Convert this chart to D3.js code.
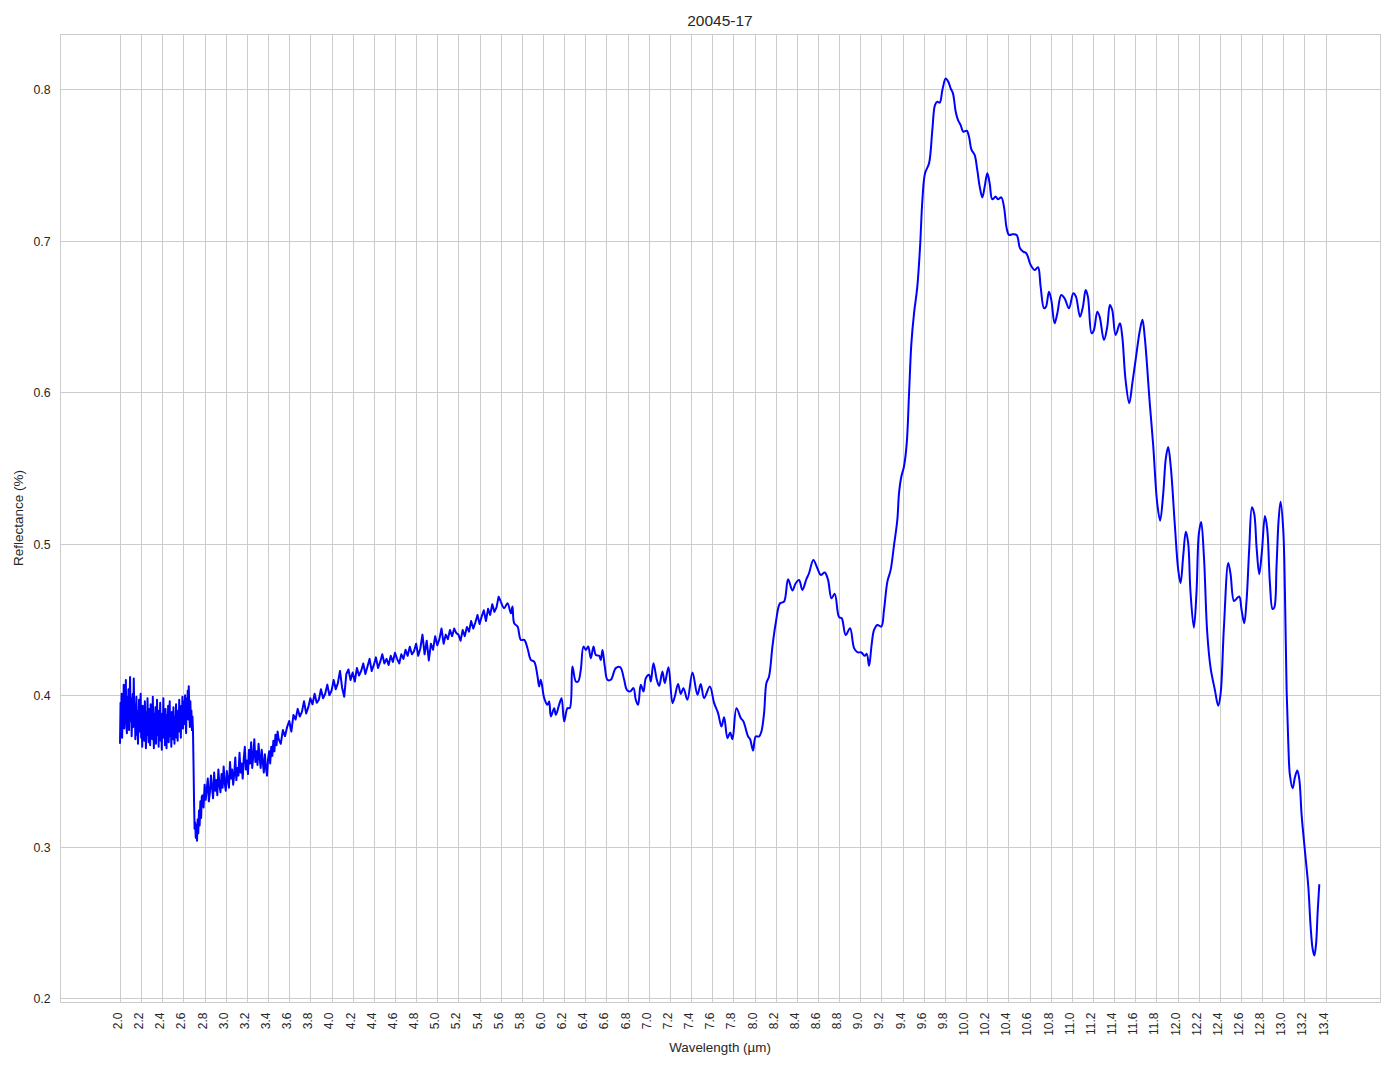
<!DOCTYPE html>
<html><head><meta charset="utf-8">
<script src="https://cdn.jsdelivr.net/npm/d3@7"></script>
<style>
html,body{margin:0;padding:0;background:#fff;}
svg text{font-family:"Liberation Sans",Arial,Helvetica,sans-serif;fill:#262626;}
</style></head><body>
<svg id="chart" width="1394" height="1069"></svg>
<script>
const chartTitle = "20045-17";
const xLabel = "Wavelength (µm)";
const yLabel = "Reflectance (%)";
const xTicks = [2.0,2.2,2.4,2.6,2.8,3.0,3.2,3.4,3.6,3.8,4.0,4.2,4.4,4.6,4.8,5.0,5.2,5.4,5.6,5.8,6.0,6.2,6.4,6.6,6.8,7.0,7.2,7.4,7.6,7.8,8.0,8.2,8.4,8.6,8.8,9.0,9.2,9.4,9.6,9.8,10.0,10.2,10.4,10.6,10.8,11.0,11.2,11.4,11.6,11.8,12.0,12.2,12.4,12.6,12.8,13.0,13.2,13.4];
const yTicks = [0.2,0.3,0.4,0.5,0.6,0.7,0.8];
const xDomain = [1.4325, 13.914];
const yDomain = [0.1976, 0.8363];

// noisy start (wavelength, reflectance)
const noisyStart = [[2.000,0.368],[2.005,0.395],[2.010,0.380],[2.015,0.401],[2.020,0.372],[2.025,0.392],[2.030,0.385],[2.035,0.407],[2.040,0.378],[2.045,0.396],
[2.050,0.389],[2.055,0.410],[2.060,0.381],[2.065,0.375],[2.070,0.399],[2.075,0.386],[2.080,0.404],[2.085,0.377],[2.090,0.393],[2.095,0.412],
[2.100,0.383],[2.105,0.398],[2.110,0.373],[2.115,0.388],[2.120,0.401],[2.125,0.379],[2.130,0.411],[2.135,0.387],[2.140,0.394],[2.145,0.371],
[2.150,0.385],[2.155,0.399],[2.160,0.374],[2.165,0.390],[2.170,0.368],[2.175,0.381],[2.180,0.397],[2.185,0.376],[2.190,0.389],[2.195,0.401],
[2.200,0.372],[2.205,0.384],[2.210,0.366],[2.215,0.393],[2.220,0.378],[2.225,0.387],[2.230,0.370],[2.235,0.396],[2.240,0.381],[2.245,0.365],
[2.250,0.389],[2.255,0.374],[2.260,0.398],[2.265,0.379],[2.270,0.369],[2.275,0.391],[2.280,0.383],[2.285,0.367],[2.290,0.394],[2.295,0.376],
[2.300,0.386],[2.305,0.371],[2.310,0.399],[2.315,0.380],[2.320,0.365],[2.325,0.388],[2.330,0.377],[2.335,0.392],[2.340,0.368],[2.345,0.383],
[2.350,0.397],[2.355,0.374],[2.360,0.386],[2.365,0.366],[2.370,0.390],[2.375,0.379],[2.380,0.395],[2.385,0.370],[2.390,0.382],[2.395,0.364],
[2.400,0.388],[2.405,0.375],[2.410,0.398],[2.415,0.372],[2.420,0.384],[2.425,0.367],[2.430,0.391],[2.435,0.380],[2.440,0.365],[2.445,0.387],
[2.450,0.374],[2.455,0.393],[2.460,0.369],[2.465,0.381],[2.470,0.396],[2.475,0.373],[2.480,0.385],[2.485,0.366],[2.490,0.389],[2.495,0.378],
[2.500,0.371],[2.505,0.392],[2.510,0.380],[2.515,0.368],[2.520,0.386],[2.525,0.375],[2.530,0.394],[2.535,0.372],[2.540,0.383],[2.545,0.370],
[2.550,0.390],[2.555,0.379],[2.560,0.397],[2.565,0.376],[2.570,0.388],[2.575,0.372],[2.580,0.393],[2.585,0.382],[2.590,0.399],[2.595,0.378],
[2.600,0.387],[2.605,0.396],[2.610,0.381],[2.615,0.400],[2.620,0.385],[2.625,0.375],[2.630,0.398],[2.635,0.389],[2.640,0.403],[2.645,0.384],
[2.650,0.406],[2.655,0.391],[2.660,0.379],[2.665,0.396],[2.670,0.383],[2.675,0.390],[2.680,0.377],[2.685,0.386],[2.690,0.376]];

const dropSegment = [[2.695,0.355],[2.700,0.330],[2.705,0.312],[2.711,0.316],[2.716,0.306],[2.722,0.314],[2.728,0.304],[2.734,0.318],
[2.740,0.309],[2.747,0.324],[2.753,0.314],[2.760,0.330],[2.767,0.319],[2.773,0.333]];

const noisyRise = [[2.78,0.334],[2.79,0.326],[2.80,0.341],[2.81,0.331],[2.82,0.338],[2.83,0.345],[2.84,0.330],[2.85,0.336],[2.86,0.347],[2.87,0.339],
[2.88,0.332],[2.89,0.349],[2.90,0.337],[2.91,0.344],[2.92,0.334],[2.93,0.351],[2.94,0.341],[2.95,0.336],[2.96,0.348],[2.97,0.339],
[2.98,0.353],[2.99,0.342],[3.00,0.337],[3.01,0.350],[3.02,0.344],[3.03,0.339],[3.04,0.356],[3.05,0.345],[3.06,0.351],[3.07,0.341],
[3.08,0.348],[3.09,0.359],[3.10,0.344],[3.11,0.352],[3.12,0.347],[3.13,0.362],[3.14,0.349],[3.15,0.355],[3.16,0.345],[3.17,0.358],
[3.18,0.366],[3.19,0.351],[3.20,0.357],[3.21,0.348],[3.22,0.364],[3.23,0.355],[3.24,0.369],[3.25,0.352],[3.26,0.360],[3.27,0.371],
[3.28,0.356],[3.29,0.363],[3.30,0.354],[3.31,0.368],[3.32,0.359],[3.33,0.352],[3.34,0.364],[3.35,0.356],[3.36,0.349],[3.37,0.361],
[3.38,0.352],[3.39,0.347],[3.40,0.358],[3.41,0.363],[3.42,0.355],[3.43,0.366],[3.44,0.360],[3.45,0.370],[3.46,0.363],[3.47,0.374],
[3.48,0.367],[3.49,0.376],[3.50,0.371]];

const noisyPlateau = [[3.52,0.368],[3.54,0.377],[3.56,0.373],[3.58,0.379],[3.60,0.383],[3.62,0.376],[3.64,0.387],[3.66,0.384],[3.68,0.391],[3.70,0.386],
[3.72,0.389],[3.74,0.396],[3.76,0.388],[3.78,0.392],[3.80,0.398],[3.82,0.394],[3.84,0.401],[3.86,0.395],[3.88,0.397],[3.90,0.404],
[3.92,0.398],[3.94,0.401],[3.96,0.407],[3.98,0.400],[4.00,0.403],[4.02,0.410],[4.04,0.404],[4.06,0.408],[4.08,0.416],[4.10,0.405],
[4.12,0.399],[4.14,0.414],[4.16,0.417],[4.18,0.410],[4.20,0.415],[4.22,0.409],[4.24,0.418],[4.26,0.413],[4.28,0.416],[4.30,0.421],
[4.32,0.414],[4.34,0.419],[4.36,0.424],[4.38,0.416],[4.40,0.420],[4.42,0.425],[4.44,0.418],[4.46,0.422],[4.48,0.427],[4.50,0.421],
[4.52,0.424],[4.54,0.420],[4.56,0.426],[4.58,0.422],[4.60,0.428],[4.62,0.424],[4.64,0.421],[4.66,0.427],[4.68,0.424],[4.70,0.430],
[4.72,0.426],[4.74,0.432],[4.76,0.427],[4.78,0.429],[4.80,0.434],[4.82,0.426],[4.84,0.431],[4.86,0.440],[4.88,0.427],[4.90,0.436],
[4.92,0.423],[4.94,0.434],[4.96,0.430],[4.98,0.439],[5.00,0.433],[5.02,0.437],[5.04,0.444],[5.06,0.434],[5.08,0.440],[5.10,0.437],
[5.12,0.443],[5.14,0.439],[5.16,0.444],[5.18,0.441],[5.20,0.440],[5.22,0.436],[5.24,0.443],[5.26,0.439],[5.28,0.445],[5.30,0.442],
[5.32,0.449],[5.34,0.444],[5.36,0.448],[5.38,0.453],[5.40,0.447],[5.42,0.452],[5.44,0.456],[5.46,0.449],[5.48,0.457],[5.50,0.453],
[5.52,0.460],[5.54,0.455],[5.56,0.458],[5.58,0.465],[5.601,0.4618]];

const smoothMid = [[5.601,0.4618],[5.633,0.4574],[5.664,0.4607],[5.696,0.4541],[5.711,0.4585],[5.727,0.4475],[5.759,0.4453],[5.790,0.4365],[5.822,0.4365],[5.853,0.4310],
[5.885,0.4233],[5.916,0.4222],[5.948,0.4124],[5.963,0.4058],[5.979,0.4102],[6.011,0.3981],[6.042,0.3937],[6.058,0.3959],[6.074,0.3860],[6.105,0.3915],
[6.121,0.3871],[6.152,0.3937],[6.175,0.3981],[6.200,0.3827],[6.231,0.3915],[6.253,0.3915],[6.278,0.4189],[6.310,0.4091],[6.332,0.4091],[6.357,0.4168],
[6.382,0.4321],[6.405,0.4299],[6.427,0.4321],[6.452,0.4244],[6.477,0.4321],[6.499,0.4266],[6.531,0.4260],[6.546,0.4233],[6.562,0.4299],[6.584,0.4189],
[6.609,0.4102],[6.641,0.4102],[6.688,0.4179],[6.729,0.4185],[6.767,0.4102],[6.792,0.4036],[6.824,0.4025],[6.855,0.4047],[6.877,0.3970],[6.899,0.3937],
[6.924,0.4069],[6.950,0.4025],[6.972,0.4113],[7.003,0.4135],[7.019,0.4091],[7.044,0.4211],[7.076,0.4102],[7.098,0.4062],[7.129,0.4157],[7.151,0.4080],
[7.186,0.4185],[7.224,0.3948],[7.246,0.3992],[7.277,0.4075],[7.302,0.4009],[7.328,0.4047],[7.365,0.3970],[7.413,0.4150],[7.460,0.4003],[7.491,0.4075],
[7.523,0.3981],[7.577,0.4058],[7.618,0.3948],[7.655,0.3882],[7.687,0.3794],[7.712,0.3855],[7.744,0.3717],[7.769,0.3754],[7.791,0.3710],[7.829,0.3915],
[7.870,0.3849],[7.895,0.3827],[7.939,0.3728],[7.958,0.3710],[7.986,0.3635],[8.011,0.3728],[8.043,0.3728],[8.065,0.3761],[8.090,0.3882],[8.112,0.4080],
[8.137,0.4124],[8.169,0.4321],[8.200,0.4475],[8.241,0.4607]];

const smoothBand = [[8.279,0.4618],[8.317,0.4766],[8.358,0.4691],[8.389,0.4739],[8.421,0.4761],[8.452,0.4695],[8.490,0.4766],[8.515,0.4805],[8.556,0.4893],[8.594,0.4838],
[8.626,0.4794],[8.664,0.4810],[8.695,0.4761],[8.727,0.4640],[8.758,0.4669],[8.799,0.4515],[8.824,0.4508],[8.862,0.4398],[8.903,0.4442],[8.941,0.4311],
[8.972,0.4284],[9.010,0.4282],[9.042,0.4260],[9.061,0.4273],[9.083,0.4194],[9.105,0.4321],[9.130,0.4431],[9.161,0.4464],[9.199,0.4453],[9.224,0.4563],
[9.256,0.4750],[9.287,0.4827],[9.319,0.4992],[9.350,0.5157]];

const smoothPeak = [[9.366,0.5333],[9.388,0.5443],[9.413,0.5509],[9.439,0.5663],[9.461,0.5993],[9.483,0.6323],[9.508,0.6520],[9.539,0.6696],[9.565,0.6960],[9.587,0.7268],
[9.612,0.7444],[9.650,0.7510],[9.681,0.7729],[9.706,0.7894],[9.728,0.7916],[9.751,0.7910],[9.776,0.7993],[9.807,0.8070],[9.832,0.8048],[9.854,0.8004],
[9.876,0.7971],[9.902,0.7850],[9.924,0.7795],[9.949,0.7762],[9.974,0.7718],[10.006,0.7725],[10.028,0.7685],[10.050,0.7602],[10.081,0.7565],[10.106,0.7466],
[10.129,0.7356],[10.154,0.7285],[10.176,0.7356],[10.201,0.7444],[10.223,0.7378],[10.248,0.7272],[10.280,0.7290],[10.302,0.7272],[10.333,0.7285],[10.358,0.7224],
[10.384,0.7081],[10.406,0.7037],[10.437,0.7041],[10.478,0.7037],[10.510,0.6949],[10.541,0.6927],[10.570,0.6916],[10.611,0.6839],[10.648,0.6806],[10.680,0.6824],
[10.705,0.6696],[10.737,0.6553],[10.756,0.6564],[10.784,0.6663],[10.806,0.6608],[10.837,0.6454],[10.863,0.6520],[10.900,0.6641],[10.932,0.6619],[10.973,0.6553],
[11.014,0.6652],[11.039,0.6630],[11.077,0.6498],[11.105,0.6564],[11.131,0.6674],[11.152,0.6630],[11.187,0.6388],[11.209,0.6410],[11.241,0.6531],[11.263,0.6498],
[11.304,0.6344],[11.335,0.6432],[11.360,0.6575],[11.382,0.6542],[11.414,0.6377],[11.455,0.6454],[11.477,0.6366],[11.508,0.6080],[11.543,0.5927],[11.572,0.6058],
[11.603,0.6212],[11.644,0.6410]];

const smoothTail = [[11.668,0.6477],[11.690,0.6359],[11.738,0.5918],[11.769,0.5653],[11.807,0.5270],[11.835,0.5152],[11.864,0.5329],[11.889,0.5564],[11.911,0.5638],[11.936,0.5505],
[11.974,0.5123],[12.006,0.4828],[12.028,0.4740],[12.053,0.4917],[12.078,0.5079],[12.100,0.5005],[12.122,0.4681],[12.154,0.4446],[12.179,0.4681],[12.201,0.5064],
[12.223,0.5143],[12.249,0.4917],[12.280,0.4416],[12.312,0.4181],[12.353,0.4034],[12.384,0.3931],[12.406,0.4004],[12.438,0.4446],[12.479,0.4873],[12.501,0.4799],
[12.533,0.4622],[12.558,0.4637],[12.583,0.4652],[12.605,0.4563],[12.630,0.4475],[12.652,0.4622],[12.678,0.4976],[12.703,0.5241],[12.725,0.5196],[12.747,0.4976],
[12.772,0.4799],[12.797,0.4946],[12.826,0.5182],[12.848,0.5093],[12.873,0.4740],[12.898,0.4569],[12.914,0.4578],[12.936,0.4858],[12.955,0.5152],[12.974,0.5276],
[12.999,0.5093],[13.015,0.4681],[13.031,0.4034],[13.047,0.3680],[13.062,0.3474],[13.088,0.3386],[13.110,0.3460],[13.132,0.3504],[13.151,0.3445],[13.173,0.3209],
[13.204,0.2974],[13.236,0.2738],[13.258,0.2473],[13.277,0.2326],[13.293,0.2282],[13.309,0.2355],[13.324,0.2562],[13.340,0.2753]];

const noisyData = [].concat(noisyStart, dropSegment, noisyRise, noisyPlateau);
const smoothData = [].concat(smoothMid, smoothBand, smoothPeak, smoothTail);

const svg = d3.select("#chart");
svg.append("rect").attr("width",1394).attr("height",1069).attr("fill","#fff");
const L = 60, R = 1380, T = 34, B = 1002;
const x = d3.scaleLinear().domain(xDomain).range([L, R]);
const y = d3.scaleLinear().domain(yDomain).range([B, T]);

const grid = svg.append("g").attr("stroke","#cccccc").attr("stroke-width",1).attr("shape-rendering","crispEdges");
grid.selectAll("line.v").data(xTicks).enter().append("line")
  .attr("x1",d=>Math.round(x(d))+0.5).attr("x2",d=>Math.round(x(d))+0.5).attr("y1",T).attr("y2",B);
grid.selectAll("line.h").data(yTicks).enter().append("line")
  .attr("y1",d=>Math.round(y(d))+0.5).attr("y2",d=>Math.round(y(d))+0.5).attr("x1",L).attr("x2",R);
svg.append("rect").attr("x",L+0.5).attr("y",T+0.5).attr("width",R-L).attr("height",B-T)
  .attr("fill","none").attr("stroke","#cccccc").attr("stroke-width",1).attr("shape-rendering","crispEdges");

const xAxis = d3.axisBottom(x).tickValues(xTicks).tickSize(0).tickFormat(d3.format(".1f"));
const gx = svg.append("g").attr("transform",`translate(0,${B})`).call(xAxis);
gx.select(".domain").remove();
gx.selectAll(".tick text")
  .attr("y",0).attr("x",0)
  .attr("transform","translate(0,10.5) rotate(-90)")
  .attr("text-anchor","end")
  .attr("dy","0.12em")
  .style("font-size","12px").style("font-family",'"Liberation Sans",Arial,sans-serif').attr("fill","#262626");

const yAxis = d3.axisLeft(y).tickValues(yTicks).tickSize(0).tickFormat(d3.format(".1f"));
const gy = svg.append("g").attr("transform",`translate(${L},0)`).call(yAxis);
gy.select(".domain").remove();
gy.selectAll(".tick text").attr("x",-9.5).attr("dy","0.36em")
  .style("font-size","12.3px").style("font-family",'"Liberation Sans",Arial,sans-serif').attr("fill","#262626");

const lineLin = d3.line().x(d=>x(d[0])).y(d=>y(d[1])).curve(d3.curveLinear);
const lineSmooth = d3.line().x(d=>x(d[0])).y(d=>y(d[1])).curve(d3.curveCatmullRom.alpha(0.5));
svg.append("path").attr("d",lineLin(noisyData)).attr("fill","none").attr("stroke","#0000ff")
  .attr("stroke-width",2).attr("stroke-linejoin","round");
svg.append("path").attr("d",lineSmooth(smoothData)).attr("fill","none").attr("stroke","#0000ff")
  .attr("stroke-width",2).attr("stroke-linejoin","round");

svg.append("text").attr("x",(L+R)/2).attr("y",26).attr("text-anchor","middle").style("font-size","15.5px").text(chartTitle);
svg.append("text").attr("x",(L+R)/2).attr("y",1052).attr("text-anchor","middle").style("font-size","13.4px").text(xLabel);
svg.append("text").attr("transform","translate(22.7,518) rotate(-90)").attr("text-anchor","middle").style("font-size","13.5px").text(yLabel);
</script>
</body></html>
